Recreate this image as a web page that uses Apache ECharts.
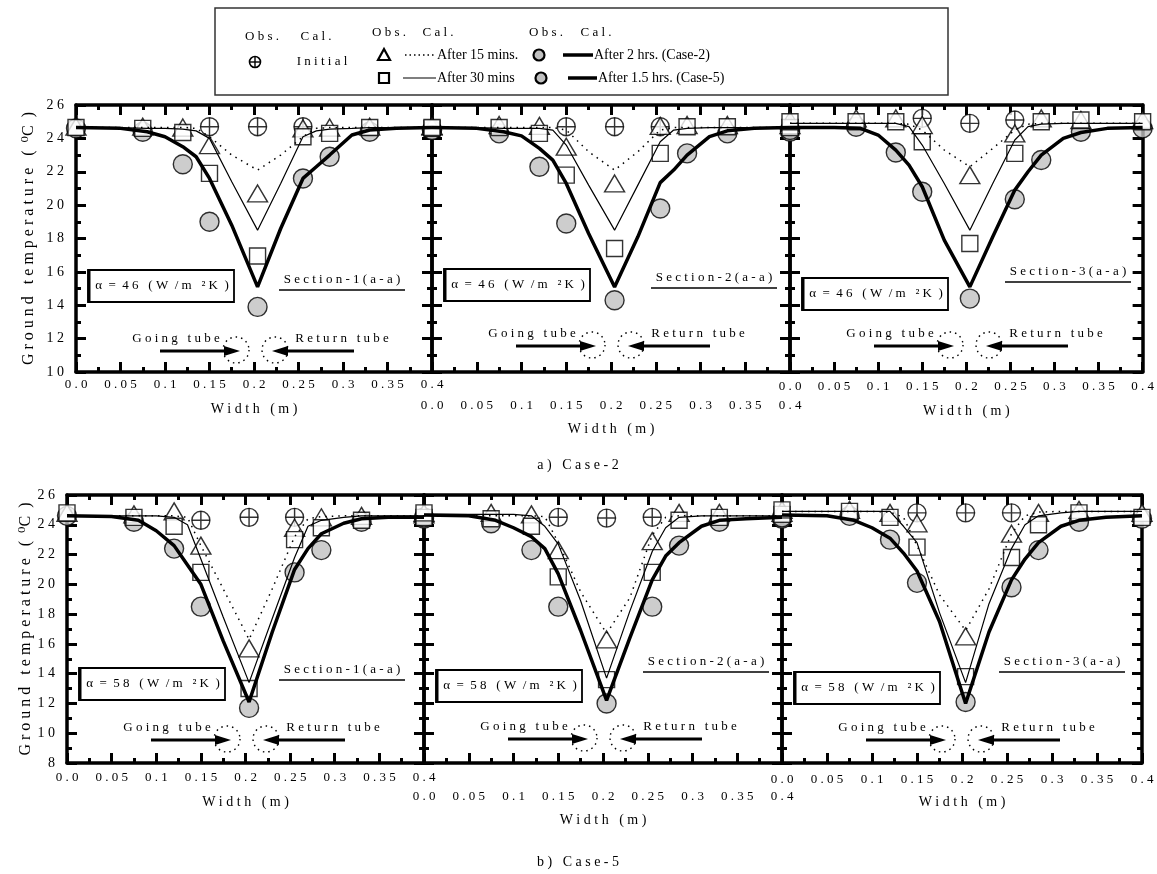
<!DOCTYPE html>
<html>
<head>
<meta charset="utf-8">
<script src="https://cdn.jsdelivr.net/npm/echarts@6/dist/echarts.min.js"></script>
<style>
html, body { margin: 0; padding: 0; background: #fff; }
#chart { width: 1157px; height: 874px; }
</style>
</head>
<body>
<div id="chart"></div>
<script>
// observed positions across the width (m)
var obsX = [0, 0.075, 0.12, 0.15, 0.204, 0.255, 0.285, 0.33, 0.4];
var initX = [0.15, 0.204, 0.255];
// positions of the calculated profiles
var calcX = [0, 0.05, 0.08, 0.1, 0.12, 0.135, 0.15, 0.175, 0.204, 0.23, 0.255, 0.27, 0.285, 0.31, 0.33, 0.36, 0.4];

// ---- Case-2 ----
var c2s1Init = [24.7, 24.7, 24.7];
var c2s1Tri = [24.7, 24.7, 24.65, 23.6, 20.7, 24.6, 24.65, 24.7, 24.7];
var c2s1Sq = [24.65, 24.6, 24.35, 21.9, 16.95, 24.1, 24.3, 24.65, 24.6];
var c2s1Circ = [24.6, 24.4, 22.45, 19.0, 13.9, 21.6, 22.9, 24.4, 24.5];
var c2s1Cal15 = [24.65, 24.65, 24.65, 24.65, 24.65, 24.6, 24.1, 23.0, 22.1, 23.0, 24.1, 24.6, 24.65, 24.65, 24.65, 24.65, 24.65];
var c2s1Cal30 = [24.65, 24.65, 24.6, 24.6, 24.55, 24.45, 24.0, 21.4, 18.5, 21.3, 24.1, 24.45, 24.55, 24.6, 24.65, 24.65, 24.65];
var c2s1CalEnd = [24.65, 24.6, 24.4, 24.1, 23.5, 22.9, 21.6, 18.8, 15.1, 18.6, 21.6, 22.3, 23.0, 24.2, 24.5, 24.6, 24.65];

var c2s2Init = [24.7, 24.7, 24.7];
var c2s2Tri = [24.75, 24.8, 24.75, 23.5, 21.3, 24.75, 24.8, 24.8, 24.8];
var c2s2Sq = [24.65, 24.65, 24.3, 21.8, 17.4, 23.1, 24.7, 24.7, 24.65];
var c2s2Circ = [24.5, 24.3, 22.3, 18.9, 14.3, 19.8, 23.1, 24.3, 24.4];
var c2s2Cal15 = [24.65, 24.65, 24.65, 24.65, 24.65, 24.65, 24.5, 23.2, 22.1, 23.2, 24.5, 24.65, 24.65, 24.65, 24.65, 24.65, 24.65];
var c2s2Cal30 = [24.65, 24.65, 24.6, 24.6, 24.6, 24.5, 23.6, 21.2, 18.5, 21.2, 23.8, 24.5, 24.6, 24.65, 24.65, 24.65, 24.65];
var c2s2CalEnd = [24.65, 24.6, 24.4, 24.15, 23.4, 22.7, 21.3, 18.3, 15.1, 18.1, 21.35, 22.1, 23.0, 24.1, 24.45, 24.6, 24.65];

var c2s3Init = [25.2, 24.9, 25.1];
var c2s3Tri = [25.1, 25.2, 25.2, 24.8, 21.8, 24.3, 25.2, 25.1, 25.1];
var c2s3Sq = [25.0, 25.0, 25.0, 23.8, 17.7, 23.1, 25.0, 25.1, 25.0];
var c2s3Circ = [24.5, 24.7, 23.15, 20.8, 14.4, 20.35, 22.7, 24.4, 24.6];
var c2s3Cal15 = [24.9, 24.9, 24.9, 24.9, 24.9, 24.85, 24.5, 23.3, 22.3, 23.4, 24.5, 24.85, 24.9, 24.9, 24.9, 24.9, 24.9];
var c2s3Cal30 = [24.9, 24.9, 24.9, 24.9, 24.9, 24.7, 23.6, 21.3, 18.5, 21.3, 23.9, 24.7, 24.85, 24.9, 24.9, 24.9, 24.9];
var c2s3CalEnd = [24.65, 24.65, 24.6, 24.2, 23.3, 22.4, 21.1, 17.9, 15.1, 18.1, 20.9, 22.0, 23.0, 24.0, 24.35, 24.6, 24.65];

// ---- Case-5 ----
var c5s1Init = [24.3, 24.5, 24.5];
var c5s1Tri = [24.8, 24.7, 24.9, 22.6, 15.7, 23.8, 24.5, 24.6, 24.7];
var c5s1Sq = [24.8, 24.5, 23.9, 20.8, 13.0, 23.0, 23.8, 24.3, 24.5];
var c5s1Circ = [24.6, 24.2, 22.4, 18.5, 11.7, 20.8, 22.3, 24.2, 24.4];
var c5s1Cal15 = [24.6, 24.6, 24.6, 24.6, 24.6, 24.5, 22.6, 19.7, 16.3, 19.7, 23.2, 24.4, 24.55, 24.6, 24.6, 24.6, 24.6];
var c5s1Cal30 = [24.6, 24.6, 24.6, 24.6, 24.5, 24.0, 21.7, 17.8, 13.4, 17.7, 21.8, 23.9, 24.3, 24.5, 24.6, 24.6, 24.6];
var c5s1CalEnd = [24.6, 24.55, 24.3, 23.6, 22.6, 21.3, 20.0, 16.2, 12.1, 16.8, 21.0, 22.4, 23.4, 24.1, 24.4, 24.5, 24.5];

var c5s2Init = [24.5, 24.45, 24.5];
var c5s2Tri = [24.8, 24.8, 24.7, 22.3, 16.3, 22.9, 24.8, 24.8, 24.8];
var c5s2Sq = [24.8, 24.4, 23.9, 20.5, 13.6, 20.8, 24.3, 24.5, 24.7];
var c5s2Circ = [24.5, 24.1, 22.3, 18.5, 12.0, 18.5, 22.6, 24.2, 24.4];
var c5s2Cal15 = [24.6, 24.6, 24.6, 24.6, 24.6, 24.55, 22.8, 19.5, 16.7, 19.1, 23.3, 24.5, 24.6, 24.6, 24.6, 24.6, 24.6];
var c5s2Cal30 = [24.7, 24.7, 24.7, 24.7, 24.6, 23.9, 22.7, 18.9, 13.7, 18.2, 22.2, 23.8, 24.5, 24.6, 24.6, 24.6, 24.6];
var c5s2CalEnd = [24.65, 24.6, 24.3, 23.8, 23.2, 22.4, 20.7, 16.9, 12.2, 16.4, 20.3, 21.9, 22.8, 23.9, 24.3, 24.4, 24.5];

var c5s3Init = [24.8, 24.8, 24.8];
var c5s3Tri = [25.0, 25.0, 24.8, 24.1, 16.5, 23.4, 24.8, 25.0, 24.8];
var c5s3Sq = [25.0, 24.9, 24.5, 22.5, 13.8, 21.8, 24.0, 24.8, 24.5];
var c5s3Circ = [24.5, 24.6, 23.0, 20.1, 12.1, 19.8, 22.3, 24.2, 24.4];
var c5s3Cal15 = [24.9, 24.9, 24.9, 24.9, 24.85, 24.5, 22.6, 19.3, 16.9, 19.7, 23.4, 24.6, 24.85, 24.9, 24.9, 24.9, 24.9];
var c5s3Cal30 = [24.9, 24.9, 24.9, 24.9, 24.9, 23.9, 22.8, 18.1, 13.4, 18.7, 22.4, 24.0, 24.6, 24.8, 24.9, 24.9, 24.9];
var c5s3CalEnd = [24.65, 24.6, 24.3, 23.8, 23.1, 22.1, 20.9, 17.5, 12.0, 16.8, 20.3, 21.7, 22.8, 23.9, 24.3, 24.5, 24.6];

var FONT = "'Liberation Serif', 'DejaVu Serif', serif";

// spread letters like the original typesetting
function sp(s) {
    return s.split(' ').map(function (w) { return w.split('').join(' '); }).join('   ');
}
function pairs(xs, ys) {
    return xs.map(function (x, i) { return [x, ys[i]]; });
}
function fmtX(v) {
    var s = String(Math.round(v * 100) / 100);
    if (s === '0') s = '0.0';
    return sp(s);
}

var panels = [
    {left: 76, top: 105, width: 356, height: 267, ymin: 10, yLabels: true, labelMargin: 6, nameGap: 30,
        alpha: '46', sec: '1', alphaY: 165, secX: 266, secY: 175, tubeY: 234,
        data: [c2s1Init, c2s1Tri, c2s1Sq, c2s1Circ, c2s1Cal15, c2s1Cal30, c2s1CalEnd]},
    {left: 432, top: 105, width: 358, height: 267, ymin: 10, yLabels: false, labelMargin: 27, nameGap: 50,
        alpha: '46', sec: '2', alphaY: 164, secX: 282, secY: 173, tubeY: 229,
        data: [c2s2Init, c2s2Tri, c2s2Sq, c2s2Circ, c2s2Cal15, c2s2Cal30, c2s2CalEnd]},
    {left: 790, top: 105, width: 358, height: 267, ymin: 10, yLabels: false, labelMargin: 8, nameGap: 32,
        alpha: '46', sec: '3', alphaY: 173, secX: 278, secY: 167, tubeY: 229,
        data: [c2s3Init, c2s3Tri, c2s3Sq, c2s3Circ, c2s3Cal15, c2s3Cal30, c2s3CalEnd]},
    {left: 67, top: 495, width: 357, height: 268, ymin: 8, yLabels: true, labelMargin: 8, nameGap: 32,
        alpha: '58', sec: '1', alphaY: 173, secX: 275, secY: 175, tubeY: 233,
        data: [c5s1Init, c5s1Tri, c5s1Sq, c5s1Circ, c5s1Cal15, c5s1Cal30, c5s1CalEnd]},
    {left: 424, top: 495, width: 358, height: 268, ymin: 8, yLabels: false, labelMargin: 27, nameGap: 50,
        alpha: '58', sec: '2', alphaY: 175, secX: 282, secY: 167, tubeY: 232,
        data: [c5s2Init, c5s2Tri, c5s2Sq, c5s2Circ, c5s2Cal15, c5s2Cal30, c5s2CalEnd]},
    {left: 782, top: 495, width: 360, height: 268, ymin: 8, yLabels: false, labelMargin: 10, nameGap: 32,
        alpha: '58', sec: '3', alphaY: 177, secX: 280, secY: 167, tubeY: 233,
        data: [c5s3Init, c5s3Tri, c5s3Sq, c5s3Circ, c5s3Cal15, c5s3Cal30, c5s3CalEnd]}
];

var option = {
    animation: false,
    backgroundColor: '#fff',
    grid: [], xAxis: [], yAxis: [], series: [], graphic: []
};

var axisLine = {show: true, onZero: false, lineStyle: {color: '#000', width: 3.5}};
var axisTick = {show: true, inside: true, length: 10, lineStyle: {color: '#000', width: 3}};
var minorTick = {show: true, splitNumber: 2, length: 5, lineStyle: {color: '#000', width: 3}};
var textStyle = {fontFamily: FONT, fontSize: 14, color: '#000'};

function txt(x, y, s, align, size) {
    return {type: 'text', x: x, y: y, z: 20, style: {text: s, font: (size || 13) + 'px ' + FONT,
        fill: '#000', textAlign: align || 'center', textVerticalAlign: 'middle'}};
}
function seg(x1, y1, x2, y2, w, dash) {
    return {type: 'line', z: 20, shape: {x1: x1, y1: y1, x2: x2, y2: y2},
        style: {stroke: '#000', lineWidth: w, lineDash: dash || null}};
}
function arrow(x1, x2, y) {
    var d = x2 > x1 ? 1 : -1;
    return [seg(x1, y, x2 - d * 10, y, 3),
        {type: 'polygon', z: 20, shape: {points: [[x2, y], [x2 - d * 16, y - 5], [x2 - d * 16, y + 5]]},
            style: {fill: '#000'}}];
}
function dotCircle(cx, cy) {
    return {type: 'circle', z: 20, shape: {cx: cx, cy: cy, r: 13},
        style: {fill: null, stroke: '#000', lineWidth: 1.4, lineDash: [1.5, 4]}};
}

panels.forEach(function (p, i) {
    option.grid.push({left: p.left, top: p.top, width: p.width, height: p.height});
    option.xAxis.push({
        type: 'value', gridIndex: i, position: 'bottom', min: 0, max: 0.4, interval: 0.05,
        axisLine: axisLine, axisTick: axisTick, minorTick: minorTick, splitLine: {show: false},
        axisLabel: {margin: p.labelMargin, formatter: fmtX, fontFamily: FONT, fontSize: 13, color: '#000',
            showMinLabel: true, showMaxLabel: true},
        name: sp('Width (m)'), nameLocation: 'middle', nameGap: p.nameGap, nameTextStyle: textStyle
    });
    option.xAxis.push({
        type: 'value', gridIndex: i, position: 'top', min: 0, max: 0.4, interval: 0.05,
        axisLine: axisLine, axisTick: axisTick, minorTick: minorTick, splitLine: {show: false},
        axisLabel: {show: false}
    });
    option.yAxis.push({
        type: 'value', gridIndex: i, position: 'left', min: p.ymin, max: 26, interval: 2,
        axisLine: axisLine, axisTick: axisTick, minorTick: minorTick, splitLine: {show: false},
        axisLabel: {show: p.yLabels, margin: 12, formatter: function (v) { return sp(String(v)); },
            fontFamily: FONT, fontSize: 14, color: '#000'},
        name: p.yLabels ? sp('Ground temperature') + '   (  \u2070C  )' : '',
        nameLocation: 'middle', nameRotate: 90, nameGap: i === 0 ? 39 : 33,
        nameTextStyle: {fontFamily: FONT, fontSize: 16, color: '#000'}
    });
    option.yAxis.push({
        type: 'value', gridIndex: i, position: 'right', min: p.ymin, max: 26, interval: 2,
        axisLine: axisLine, axisTick: axisTick, minorTick: minorTick, splitLine: {show: false},
        axisLabel: {show: false}
    });

    var ax = {xAxisIndex: 2 * i, yAxisIndex: 2 * i};
    var d = p.data;
    function scatter(name, ys, xs, symbol, size, fill, z) {
        option.series.push(Object.assign({
            type: 'scatter', name: name, data: pairs(xs, ys), symbol: symbol, symbolSize: size, z: z,
            itemStyle: {color: fill, borderColor: '#000', borderWidth: 1.4}, silent: true
        }, ax));
    }
    function line(name, ys, width, type) {
        option.series.push(Object.assign({
            type: 'line', name: name, data: pairs(calcX, ys), showSymbol: false, z: 6, silent: true,
            lineStyle: {color: '#000', width: width, type: type}
        }, ax));
    }
    scatter('End', d[3], obsX, 'circle', 19, '#c0c0c0', 2);
    scatter('Initial', d[0], initX, 'circle', 18, '#fff', 3);
    option.series.push(Object.assign({
        type: 'scatter', name: 'Initial+', data: pairs(initX, d[0]), z: 3, silent: true,
        symbol: 'path://M0,9.2h20v1.6h-20z M9.2,0h1.6v20h-1.6z', symbolSize: 18,
        itemStyle: {color: '#000'}
    }, ax));
    scatter('15 min', d[1], obsX, 'triangle', [20, 17], '#fff', 4);
    scatter('30 min', d[2], obsX, 'rect', 16, '#fff', 5);
    line('Cal 15', d[4], 1.5, [1.5, 5]);
    line('Cal 30', d[5], 1.2, 'solid');
    line('Cal end', d[6], 3.5, 'solid');

    // in-panel annotations
    var L = p.left, T = p.top, g = option.graphic;
    g.push({type: 'rect', z: 19, shape: {x: L + 12, y: T + p.alphaY, width: 146, height: 32},
        style: {fill: '#fff', stroke: '#000', lineWidth: 1.8}});
    g.push(seg(L + 13, T + p.alphaY, L + 13, T + p.alphaY + 32, 3));
    g.push(txt(L + 86, T + p.alphaY + 16, '\u03b1  =  ' + sp(p.alpha) + '   ( W  / m   \u00b2 K  )', 'center', 13));
    g.push(txt(L + p.secX, T + p.secY, sp('Section-' + p.sec + '(a-a)')));
    g.push(seg(L + p.secX - 63, T + p.secY + 10, L + p.secX + 63, T + p.secY + 10, 1.5));
    var ty = T + p.tubeY;
    g.push(txt(L + 100, ty, sp('Going tube')));
    g.push(txt(L + 266, ty, sp('Return tube')));
    arrow(L + 84, L + 164, ty + 12).forEach(function (e) { g.push(e); });
    arrow(L + 278, L + 196, ty + 12).forEach(function (e) { g.push(e); });
    g.push(dotCircle(L + 160, ty + 11));
    g.push(dotCircle(L + 199, ty + 11));
});

// case captions
option.graphic.push(txt(578, 465, sp('a) Case-2'), 'center', 14));
option.graphic.push(txt(578, 862, sp('b) Case-5'), 'center', 14));

// legend box
(function () {
    var g = option.graphic;
    g.push({type: 'rect', z: 19, shape: {x: 215, y: 8, width: 733, height: 87},
        style: {fill: '#fff', stroke: '#333', lineWidth: 1.5}});
    var r1 = 55, r2 = 78;
    g.push(txt(262, 37, sp('Obs.')));
    g.push(txt(316, 37, sp('Cal.')));
    g.push({type: 'circle', z: 20, shape: {cx: 255, cy: 62, r: 5.5}, style: {fill: '#fff', stroke: '#000', lineWidth: 1.6}});
    g.push(seg(249.5, 62, 260.5, 62, 1.4));
    g.push(seg(255, 56.5, 255, 67.5, 1.4));
    g.push(txt(322, 62, sp('Initial')));

    g.push(txt(389, 33, sp('Obs.')));
    g.push(txt(438, 33, sp('Cal.')));
    g.push({type: 'polygon', z: 20, shape: {points: [[384, r1 - 6], [378, r1 + 5], [390, r1 + 5]]},
        style: {fill: '#fff', stroke: '#000', lineWidth: 2.2}});
    g.push(seg(405, r1, 436, r1, 1.5, [1.5, 3]));
    g.push(txt(437, r1, 'After 15 mins.', 'left', 14));
    g.push({type: 'rect', z: 20, shape: {x: 379, y: r2 - 5, width: 10, height: 10},
        style: {fill: '#fff', stroke: '#000', lineWidth: 2.2}});
    g.push(seg(403, r2, 436, r2, 1.2));
    g.push(txt(437, r2, 'After 30 mins', 'left', 14));

    g.push(txt(546, 33, sp('Obs.')));
    g.push(txt(596, 33, sp('Cal.')));
    g.push({type: 'circle', z: 20, shape: {cx: 539, cy: r1, r: 5.5}, style: {fill: '#c0c0c0', stroke: '#000', lineWidth: 2.2}});
    g.push(seg(563, r1, 593, r1, 3.5));
    g.push(txt(594, r1, 'After 2 hrs. (Case-2)', 'left', 14));
    g.push({type: 'circle', z: 20, shape: {cx: 541, cy: r2, r: 5.5}, style: {fill: '#c0c0c0', stroke: '#000', lineWidth: 2.2}});
    g.push(seg(568, r2, 597, r2, 3.5));
    g.push(txt(598, r2, 'After 1.5 hrs. (Case-5)', 'left', 14));
})();

var chart = echarts.init(document.getElementById('chart'));
chart.setOption(option);
</script>
</body>
</html>
